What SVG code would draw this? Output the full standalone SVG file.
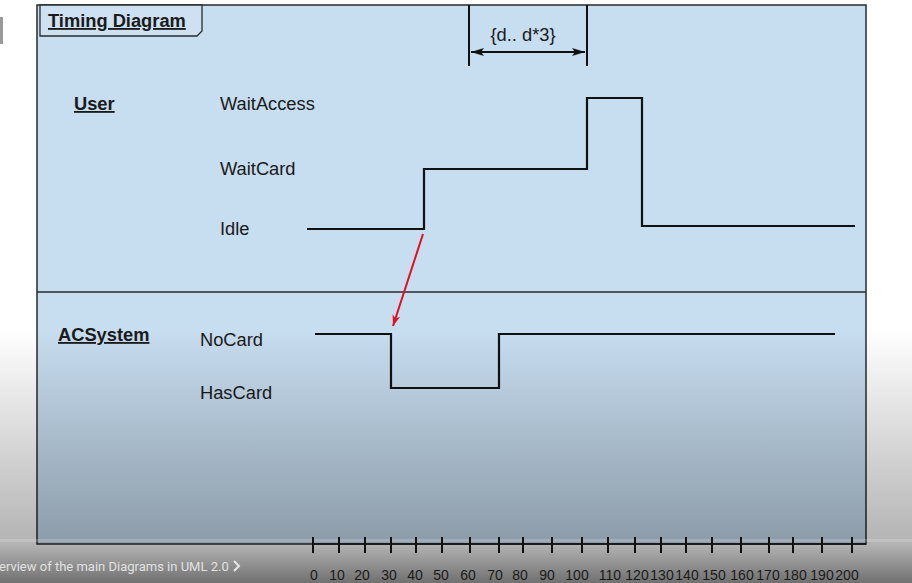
<svg xmlns="http://www.w3.org/2000/svg" width="912" height="583" viewBox="0 0 912 583">
<defs>
<style>
.lbl{font-family:"Liberation Sans",Arial,sans-serif;font-size:18.3px;fill:#1a1a1a}
.hdr{font-family:"Liberation Sans",Arial,sans-serif;font-size:18.3px;font-weight:bold;fill:#1a1a1a;text-decoration:underline}
.wave{fill:none;stroke:#111;stroke-width:2.2}
.tick{stroke:#111;stroke-width:2}
.num{font-family:"Liberation Sans",Arial,sans-serif;font-size:14px;fill:#1a1a1a;text-anchor:middle}
</style>
<linearGradient id="shade" x1="0" y1="0" x2="0" y2="1">
<stop offset="0" stop-color="#000" stop-opacity="0"/>
<stop offset="0.85" stop-color="#000" stop-opacity="0.3"/>
<stop offset="1" stop-color="#000" stop-opacity="0.56"/>
</linearGradient>
<marker id="redHead" markerWidth="12" markerHeight="10" refX="11" refY="5" orient="auto" markerUnits="userSpaceOnUse">
<path d="M0,1 L11,5 L0,9 L3,5 Z" fill="#e01020"/>
</marker>
<marker id="blkHead" markerWidth="14" markerHeight="10" refX="13" refY="5" orient="auto-start-reverse" markerUnits="userSpaceOnUse">
<path d="M0,1 L13,5 L0,9 L3,5 Z" fill="#111"/>
</marker>
</defs>
<rect x="0" y="0" width="912" height="583" fill="#ffffff"/>
<rect x="0" y="17" width="3" height="27" fill="#9a9a9a"/>
<g id="frame">
<rect x="37" y="5" width="829" height="539" fill="#c7ddf0" stroke="#2a2a2a" stroke-width="1.5"/>
<line x1="37" y1="292" x2="866" y2="292" stroke="#2a2a2a" stroke-width="1.5"/>
</g>
<g id="title">
<path d="M40,5 L202,5 L202,31 L197,36 L40,36 Z" fill="#cde1f3" stroke="#2a2a2a" stroke-width="1.3"/>
<text x="48" y="27" class="hdr">Timing Diagram</text>
</g>
<g id="user">
<text x="74" y="110" class="hdr">User</text>
<text x="220" y="110" class="lbl">WaitAccess</text>
<text x="220" y="175" class="lbl">WaitCard</text>
<text x="220" y="235" class="lbl">Idle</text>
<polyline class="wave" points="307,229 424,229 424,169 587,169 587,98 642,98 642,226 855,226"/>
</g>
<g id="acsystem">
<text x="58" y="341" class="hdr">ACSystem</text>
<text x="200" y="346" class="lbl">NoCard</text>
<text x="200" y="399" class="lbl">HasCard</text>
<polyline class="wave" points="315,334 391,334 391,388 499,388 499,334 835,334"/>
</g>
<g id="constraint">
<line x1="469" y1="5" x2="469" y2="66" stroke="#111" stroke-width="2"/>
<line x1="587" y1="5" x2="587" y2="66" stroke="#111" stroke-width="2"/>
<text x="523" y="41" class="lbl" text-anchor="middle">{d.. d*3}</text>
</g>
<g id="connectors">
<line x1="423" y1="234" x2="393" y2="326" stroke="#e01020" stroke-width="2" marker-end="url(#redHead)"/>
<line x1="471" y1="52" x2="585" y2="52" stroke="#111" stroke-width="2" marker-start="url(#blkHead)" marker-end="url(#blkHead)"/>
</g>
<rect x="0" y="330" width="912" height="253" fill="url(#shade)"/>
<rect x="0" y="539" width="912" height="3" fill="#ffffff" opacity="0.18"/>
<g id="axis">
<line x1="312" y1="544" x2="866" y2="544" stroke="#111" stroke-width="1.6"/>
<g class="tick">
<line x1="313" y1="537" x2="313" y2="553"/><line x1="339" y1="537" x2="339" y2="553"/><line x1="365" y1="537" x2="365" y2="553"/><line x1="391" y1="537" x2="391" y2="553"/><line x1="416" y1="537" x2="416" y2="553"/><line x1="442" y1="537" x2="442" y2="553"/><line x1="470" y1="537" x2="470" y2="553"/><line x1="499" y1="537" x2="499" y2="553"/><line x1="523" y1="537" x2="523" y2="553"/><line x1="552" y1="537" x2="552" y2="553"/><line x1="582" y1="537" x2="582" y2="553"/><line x1="608" y1="537" x2="608" y2="553"/><line x1="635" y1="537" x2="635" y2="553"/><line x1="661" y1="537" x2="661" y2="553"/><line x1="686" y1="537" x2="686" y2="553"/><line x1="712" y1="537" x2="712" y2="553"/><line x1="741" y1="537" x2="741" y2="553"/><line x1="769" y1="537" x2="769" y2="553"/><line x1="793" y1="537" x2="793" y2="553"/><line x1="822" y1="537" x2="822" y2="553"/><line x1="852" y1="537" x2="852" y2="553"/>
</g>
<text class="num" y="580"><tspan x="314">0</tspan><tspan x="337">10</tspan><tspan x="362">20</tspan><tspan x="389">30</tspan><tspan x="415">40</tspan><tspan x="441">50</tspan><tspan x="468">60</tspan><tspan x="495">70</tspan><tspan x="520">80</tspan><tspan x="547">90</tspan><tspan x="577">100</tspan><tspan x="610">110</tspan><tspan x="637">120</tspan><tspan x="662">130</tspan><tspan x="687">140</tspan><tspan x="714">150</tspan><tspan x="742">160</tspan><tspan x="768">170</tspan><tspan x="795">180</tspan><tspan x="822">190</tspan><tspan x="847">200</tspan></text>
</g>
<text x="-1" y="571" font-family="Roboto,'Liberation Sans',sans-serif" font-size="13" fill="#e2e2e2">erview of the main Diagrams in UML 2.0</text>
<path d="M234,561 L239,566 L234,571" fill="none" stroke="#e8e8e8" stroke-width="2"/>
</svg>
